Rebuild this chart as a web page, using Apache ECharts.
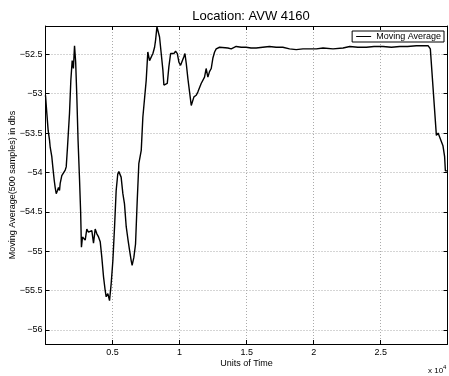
<!DOCTYPE html>
<html><head><meta charset="utf-8">
<script src="https://cdn.jsdelivr.net/npm/echarts@6/dist/echarts.min.js"></script>
<style>html,body{margin:0;padding:0;background:#fff}#c{width:449px;height:376px}</style>
</head><body><div id="c"></div>
<script>
const titleText = 'Location: AVW 4160';
const seriesName = 'Moving Average';
const xName = 'Units of Time';
const yName = 'Moving Average(500 samples) in dbs';
const xMin = 0, xMax = 29980;
const yMin = -56.18, yMax = -52.14;

const timeValues = [0, 100, 200, 300, 350, 470, 545, 650, 720, 800, 895, 970, 1045, 1095, 1215, 1340, 1470, 1545, 1640, 1790, 1890, 1990, 2080, 2165, 2250, 2330, 2430, 2540, 2620, 2680, 2760, 2835, 2960, 3080, 3205, 3330, 3455, 3580, 3705, 3830, 3955, 4080, 4200, 4330, 4450, 4525, 4650, 4775, 4900, 5025, 5150, 5270, 5390, 5470, 5520, 5640, 5770, 5890, 6020, 6140, 6270, 6390, 6460, 6590, 6715, 6840, 6960, 7140, 7260, 7510, 7630, 7760, 7890, 8010, 8135, 8210, 8310, 8410, 8505, 8630, 8755, 8830, 8955, 9080, 9200, 9330, 9450, 9575, 9700, 9830, 9950, 10075, 10200, 10320, 10400, 10500, 10620, 10745, 10870, 10940, 11070, 11240, 11360, 11490, 11610, 11730, 11860, 11980, 12110, 12230, 12360, 12480, 12610, 12730, 12980, 13110, 13600, 13850, 14220, 14600, 14960, 15330, 15710, 16200, 16700, 17200, 17700, 18200, 18700, 19200, 19700, 20200, 20700, 21440, 22190, 22690, 23300, 23930, 24500, 25170, 25800, 26420, 27000, 27660, 28200, 28530, 28700, 29150, 29280, 29400, 29640, 29765, 29820, 29980];
const movingAvg = [-53.02, -53.25, -53.47, -53.59, -53.68, -53.80, -53.93, -54.10, -54.19, -54.27, -54.23, -54.19, -54.23, -54.14, -54.04, -54.06, -53.97, -53.93, -53.68, -53.25, -52.83, -52.58, -52.68, -52.39, -52.6, -53.0, -53.6, -54.1, -54.5, -54.95, -54.82, -54.8, -54.86, -54.72, -54.76, -54.78, -54.74, -54.9, -54.72, -54.78, -54.82, -54.88, -55.08, -55.33, -55.5, -55.58, -55.54, -55.63, -55.41, -55.12, -54.69, -54.23, -54.02, -53.99, -54.0, -54.06, -54.27, -54.4, -54.69, -54.84, -54.99, -55.12, -55.18, -55.08, -54.91, -54.36, -53.89, -53.72, -53.3, -52.83, -52.47, -52.58, -52.6, -52.49, -52.41, -52.32, -52.15, -52.17, -52.28, -52.49, -52.70, -52.89, -52.91, -52.87, -52.66, -52.49, -52.49, -52.49, -52.46, -52.49, -52.6, -52.64, -52.64, -52.53, -52.49, -52.62, -52.81, -52.98, -53.15, -53.13, -53.04, -53.02, -52.98, -52.96, -52.87, -52.89, -52.79, -52.68, -52.79, -52.72, -52.68, -52.55, -52.47, -52.43, -52.41, -52.39, -52.42, -52.43, -52.40, -52.41, -52.41, -52.42, -52.42, -52.41, -52.40, -52.41, -52.41, -52.43, -52.44, -52.43, -52.43, -52.43, -52.42, -52.43, -52.42, -52.40, -52.41, -52.41, -52.40, -52.40, -52.41, -52.40, -52.40, -52.39, -52.39, -52.39, -52.43, -53.53, -53.5, -53.48, -53.66, -53.8, -53.98, -53.98];

const pts = timeValues.map((t, i) => [t, movingAvg[i]]);
const font = '"Liberation Sans", Arial, Helvetica, sans-serif';
const fmtY = v => String(v).replace('-', '\u2212');
const fmtX = v => String(v / 10000);

const chart = echarts.init(document.getElementById('c'), null, {renderer: 'canvas'});
chart.setOption({
  animation: false,
  backgroundColor: '#fff',
  title: {text: titleText, left: 246, top: 5, textAlign: 'center',
    textStyle: {fontFamily: font, fontSize: 13, fontWeight: 'normal', color: '#000'}},
  legend: {data: [{name: seriesName, icon: 'rect'}], right: 5, top: 31, orient: 'horizontal',
    backgroundColor: '#fff', borderColor: '#000', borderWidth: 1, borderRadius: 0,
    padding: [1, 3, 1, 4], itemWidth: 15, itemHeight: 1, itemGap: 4,
    textStyle: {fontFamily: font, fontSize: 9, color: '#000'}},
  grid: {left: 45.5, right: 1.5, top: 26, bottom: 32, containLabel: false, outerBoundsMode: 'none'},
  xAxis: [{type: 'value', min: xMin, max: xMax, splitNumber: 6, position: 'bottom',
    name: xName, nameLocation: 'middle', nameGap: 15, nameMoveOverlap: false,
    nameTextStyle: {fontFamily: font, fontSize: 9, color: '#000'},
    axisLine: {show: true, onZero: false, lineStyle: {color: '#000', width: 1}},
    axisTick: {show: true, inside: true, length: 4, lineStyle: {color: '#000'}},
    axisLabel: {formatter: fmtX, showMinLabel: false, showMaxLabel: false, margin: 4,
      fontFamily: font, fontSize: 9, color: '#000'},
    splitLine: {show: true, lineStyle: {color: '#aaa', type: [1, 2], width: 1}}},
   {type: 'value', min: xMin, max: xMax, splitNumber: 6, position: 'top',
    axisLine: {show: true, onZero: false, lineStyle: {color: '#000', width: 1}},
    axisTick: {show: true, inside: true, length: 4, lineStyle: {color: '#000'}},
    axisLabel: {show: false}, splitLine: {show: false}}],
  yAxis: [{type: 'value', min: yMin, max: yMax, splitNumber: 8, position: 'left',
    name: yName, nameLocation: 'middle', nameGap: 28, nameMoveOverlap: false,
    nameTextStyle: {fontFamily: font, fontSize: 9, color: '#000'},
    axisLine: {show: true, onZero: false, lineStyle: {color: '#000', width: 1}},
    axisTick: {show: true, inside: true, length: 4, lineStyle: {color: '#000'}},
    axisLabel: {formatter: fmtY, showMinLabel: false, showMaxLabel: false, margin: 3,
      fontFamily: font, fontSize: 9, color: '#000'},
    splitLine: {show: true, lineStyle: {color: '#aaa', type: [1, 2], width: 1}}},
   {type: 'value', min: yMin, max: yMax, splitNumber: 8, position: 'right',
    axisLine: {show: true, onZero: false, lineStyle: {color: '#000', width: 1}},
    axisTick: {show: true, inside: true, length: 4, lineStyle: {color: '#000'}},
    axisLabel: {show: false}, splitLine: {show: false}}],
  graphic: [
    {type: 'text', left: 428, top: 367, style: {text: 'x 10', font: '8px ' + font, fill: '#000'}},
    {type: 'text', left: 443, top: 364, style: {text: '4', font: '6px ' + font, fill: '#000'}}
  ],
  series: [{name: seriesName, type: 'line', data: pts, xAxisIndex: 0, yAxisIndex: 0,
    symbol: 'none', showSymbol: false,
    lineStyle: {color: '#000', width: 1.4}, itemStyle: {color: '#000'}}]
});
</script></body></html>
